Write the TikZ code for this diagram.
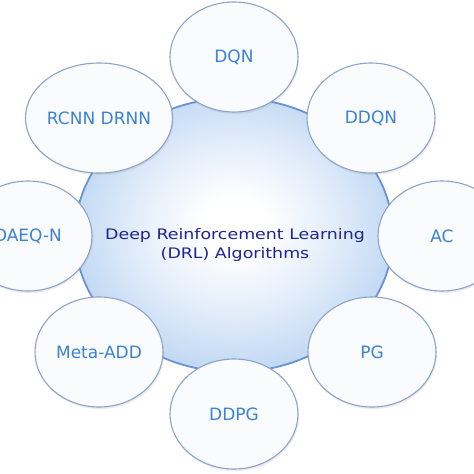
\documentclass[tikz,border=0pt]{standalone}
\usepackage{fontspec}
\setmainfont{DejaVu Sans}
\newfontfamily\widefont[FakeStretch=1.2]{DejaVu Sans}
\usetikzlibrary{shapes.geometric,shadows}
\definecolor{satborder}{HTML}{8DA3CA}
\definecolor{satfill}{HTML}{FAFBFC}
\definecolor{sattext}{HTML}{3B82D6}
\definecolor{hubborder}{HTML}{6A92D2}
\definecolor{hubouter}{HTML}{C4DAF4}
\definecolor{hubmid}{HTML}{E4EEFA}
\definecolor{hubtext}{HTML}{1F238C}
\pgfdeclareradialshading{hubshade}{\pgfpoint{0bp}{2bp}}{%
  color(0bp)=(white); color(5bp)=(white); color(15bp)=(hubmid);
  color(25bp)=(hubouter); color(50bp)=(hubouter)}
\tikzset{
  sat/.style={ellipse, draw=satborder, line width=1.1pt, fill=satfill,
    minimum width=128pt, minimum height=110pt, inner sep=0pt,
    drop shadow={opacity=0.15, shadow xshift=1pt, shadow yshift=-2pt},
    text=sattext, font=\fontsize{17}{20}\selectfont},
  hub/.style={ellipse, draw=hubborder, line width=1.8pt,
    shading=hubshade,
    minimum width=318pt, minimum height=274pt, inner sep=0pt},
  hublabel/.style={text=hubtext, align=center,
    font=\widefont\fontsize{14.5}{19}\selectfont}
}
\begin{document}
\begin{tikzpicture}[x=1pt,y=-1pt]
\useasboundingbox (0,0) rectangle (474,474);
\clip (0,0) rectangle (474,474);
\fill[white] (0,0) rectangle (474,474);
\node[hub] (hub) at (234,235) {};
\node[hublabel] (hubtxt) at (235,245) {Deep Reinforcement Learning\\(DRL) Algorithms};
\node[sat] (dqn)  at (234,57)  {DQN};
\node[sat] (ddqn) at (371,118) {DDQN};
\node[sat] (ac)   at (442,236) {AC};
\node[sat] (pg)   at (372,352) {PG};
\node[sat] (ddpg) at (234,414) {DDPG};
\node[sat] (meta) at (99,352)  {Meta-ADD};
\node[sat] (daeq) at (28,236)  {DAEQ-N};
\node[sat] (rcnn) at (99,118)  {RCNN DRNN};
\end{tikzpicture}
\end{document}
